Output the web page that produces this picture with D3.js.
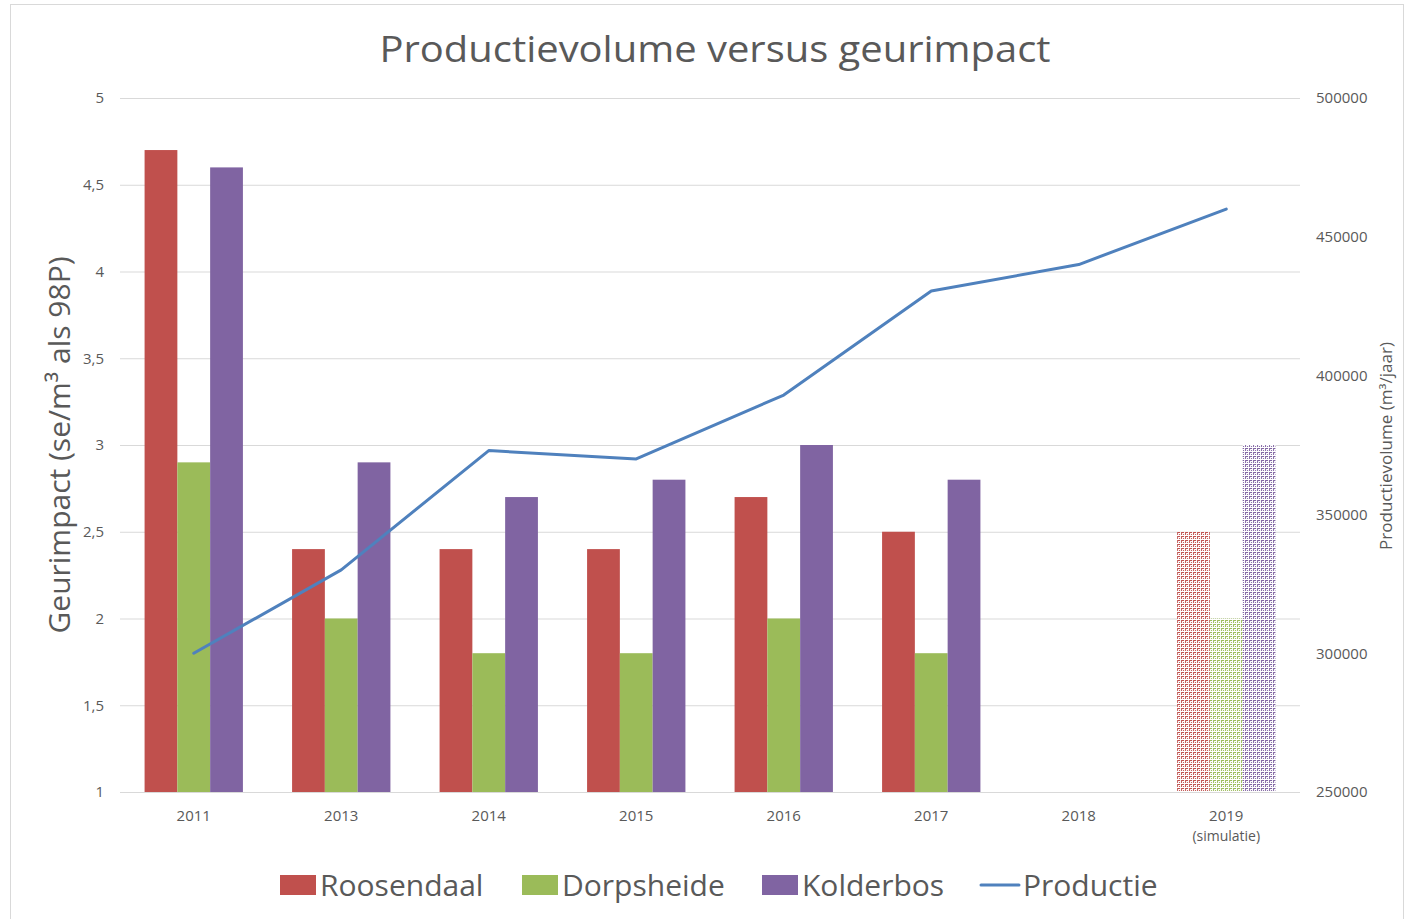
<!DOCTYPE html>
<html>
<head>
<meta charset="utf-8">
<script src="https://cdn.jsdelivr.net/npm/d3@7"></script>
<style>
  body { margin: 0; background: #fff; }
  svg text { font-family: "Open Sans", sans-serif; fill: #595959; }
</style>
</head>
<body>
<svg id="chart" width="1407" height="919"></svg>
<script>
// Categories and values
const years = ['2011', '2013', '2014', '2015', '2016', '2017', '2018', '2019'];
const roosendaal = [4.7, 2.4, 2.4, 2.4, 2.7, 2.5, null, 2.5];
const dorpsheide = [2.9, 2.0, 1.8, 1.8, 2.0, 1.8, null, 2.0];
const kolderbos  = [4.6, 2.9, 2.7, 2.8, 3.0, 2.8, null, 3.0];
const productie  = [300000, 330000, 373000, 370000, 393000, 430500, 440000, 460000];
const leftTicks  = [1, 1.5, 2, 2.5, 3, 3.5, 4, 4.5, 5];
const rightTicks = [250000, 300000, 350000, 400000, 450000, 500000];
const simulated = '2019';

const series = [
  { name: 'Roosendaal', values: roosendaal, color: '#C0504D' },
  { name: 'Dorpsheide', values: dorpsheide, color: '#9BBB59' },
  { name: 'Kolderbos',  values: kolderbos,  color: '#8064A2' }
];
const lineColor = '#4F81BD';

const svg = d3.select('#chart');
const plot = { left: 120, right: 1300, top: 98, bottom: 792 };

// chart frame
svg.append('rect')
  .attr('x', 10.5).attr('y', 4.5)
  .attr('width', 1393).attr('height', 930)
  .attr('fill', '#fff').attr('stroke', '#d9d9d9');

// dotted patterns for the simulated year
const defs = svg.append('defs');
series.forEach((s, i) => {
  const p = defs.append('pattern')
    .attr('id', 'pat' + i)
    .attr('patternUnits', 'userSpaceOnUse')
    .attr('width', 4).attr('height', 4);
  p.append('rect').attr('width', 4).attr('height', 4).attr('fill', '#fff');
  p.append('rect').attr('width', 3).attr('height', 1).attr('fill', s.color);
  p.append('rect').attr('width', 1).attr('height', 3).attr('fill', s.color);
  p.append('rect').attr('x', 2).attr('y', 2).attr('width', 1).attr('height', 1).attr('fill', s.color);
});

const x = d3.scaleBand().domain(years).range([plot.left, plot.right]).paddingInner(0.5 / 1.5).paddingOuter(0.25 / 1.5);
const xOuter = d3.scaleBand().domain(years).range([plot.left, plot.right]);
const xSub = d3.scaleBand().domain(series.map(s => s.name)).range([0, x.bandwidth()]);
const y = d3.scaleLinear().domain([1, 5]).range([plot.bottom, plot.top]);
const y2 = d3.scaleLinear().domain([250000, 500000]).range([plot.bottom, plot.top]);

const fmtLeft = d => d3.format('.1~f')(d).replace('.', ',');
const tickFont = 15;

// gridlines
svg.append('g')
  .attr('transform', `translate(${plot.left},0)`)
  .call(d3.axisLeft(y).tickValues(leftTicks).tickSize(-(plot.right - plot.left)).tickFormat(''))
  .call(g => g.select('.domain').remove())
  .call(g => g.selectAll('line').attr('stroke', '#d9d9d9').attr('stroke-width', 1));

// left axis labels
svg.append('g')
  .attr('transform', `translate(${plot.left},0)`)
  .call(d3.axisLeft(y).tickValues(leftTicks).tickSize(0).tickPadding(16).tickFormat(fmtLeft))
  .call(g => g.select('.domain').remove())
  .call(g => g.selectAll('text').attr('font-size', tickFont).attr('fill', '#595959').style('font-family', '"Open Sans", sans-serif'));

// right axis labels
svg.append('g')
  .attr('transform', `translate(${plot.right},0)`)
  .call(d3.axisRight(y2).tickValues(rightTicks).tickSize(0).tickPadding(16).tickFormat(d3.format('d')))
  .call(g => g.select('.domain').remove())
  .call(g => g.selectAll('text').attr('font-size', tickFont).attr('fill', '#595959').style('font-family', '"Open Sans", sans-serif'));

// bars
const groups = svg.append('g').selectAll('g')
  .data(years)
  .join('g')
  .attr('transform', d => `translate(${x(d)},0)`);

groups.selectAll('rect')
  .data(yr => series.map((s, i) => ({ yr, s, i, v: s.values[years.indexOf(yr)] })).filter(d => d.v != null))
  .join('rect')
  .attr('x', d => xSub(d.s.name))
  .attr('width', xSub.bandwidth())
  .attr('y', d => y(d.v))
  .attr('height', d => y(1) - y(d.v))
  .attr('fill', d => d.yr === simulated ? `url(#pat${d.i})` : d.s.color);

// bottom axis line
svg.append('line')
  .attr('x1', plot.left).attr('x2', plot.right)
  .attr('y1', plot.bottom + 0.5).attr('y2', plot.bottom + 0.5)
  .attr('stroke', '#d9d9d9');

// x axis labels
const xAxis = svg.append('g')
  .attr('transform', `translate(0,${plot.bottom})`)
  .call(d3.axisBottom(xOuter).tickSize(0).tickPadding(18))
  .call(g => g.select('.domain').remove());
xAxis.selectAll('text')
  .attr('font-size', tickFont).attr('fill', '#595959').style('font-family', '"Open Sans", sans-serif');
xAxis.selectAll('.tick').filter(d => d === simulated)
  .append('text')
  .attr('y', 49).attr('text-anchor', 'middle')
  .attr('font-size', 14).attr('fill', '#595959')
  .text('(simulatie)');

// production line
const line = d3.line()
  .x((d, i) => xOuter(years[i]) + xOuter.bandwidth() / 2)
  .y(d => y2(d));
svg.append('path')
  .datum(productie)
  .attr('fill', 'none')
  .attr('stroke', lineColor)
  .attr('stroke-width', 3)
  .attr('stroke-linejoin', 'round')
  .attr('stroke-linecap', 'round')
  .attr('d', line);

// title
svg.append('text')
  .attr('x', 715).attr('y', 62)
  .attr('text-anchor', 'middle')
  .attr('font-size', 37)
  .attr('textLength', 671)
  .attr('lengthAdjust', 'spacingAndGlyphs')
  .text('Productievolume versus geurimpact');

// axis titles
svg.append('text')
  .attr('transform', `translate(70,${(plot.top + plot.bottom) / 2}) rotate(-90)`)
  .attr('text-anchor', 'middle')
  .attr('font-size', 30)
  .text('Geurimpact (se/m³ als 98P)');

svg.append('text')
  .attr('transform', `translate(1392,446) rotate(-90)`)
  .attr('text-anchor', 'middle')
  .attr('font-size', 15.5)
  .attr('textLength', 208)
  .attr('lengthAdjust', 'spacingAndGlyphs')
  .text('Productievolume (m³/jaar)');

// legend
const legendItems = [
  { name: 'Roosendaal', color: series[0].color, type: 'rect', x: 280 },
  { name: 'Dorpsheide', color: series[1].color, type: 'rect', x: 522 },
  { name: 'Kolderbos',  color: series[2].color, type: 'rect', x: 762 },
  { name: 'Productie',  color: lineColor,       type: 'line', x: 981 }
];
const lg = svg.append('g').selectAll('g').data(legendItems).join('g')
  .attr('transform', d => `translate(${d.x},885)`);
lg.filter(d => d.type === 'rect').append('rect')
  .attr('x', 0).attr('y', -10).attr('width', 36).attr('height', 20)
  .attr('fill', d => d.color);
lg.filter(d => d.type === 'line').append('line')
  .attr('x1', 0).attr('x2', 38).attr('y1', 0).attr('y2', 0)
  .attr('stroke', d => d.color).attr('stroke-width', 3).attr('stroke-linecap', 'round');
lg.append('text')
  .attr('x', d => d.type === 'rect' ? 40 : 42)
  .attr('y', 11)
  .attr('font-size', 30)
  .text(d => d.name);
</script>
</body>
</html>
